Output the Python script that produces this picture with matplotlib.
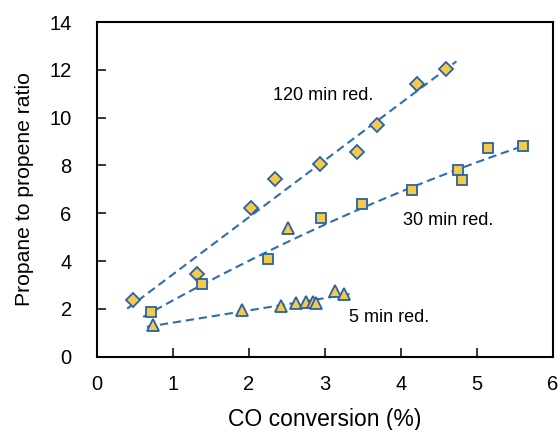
import numpy as np
import matplotlib.pyplot as plt

plt.rcParams['font.family'] = ['Liberation Sans', 'DejaVu Sans']

# 120 min reduction (diamonds)
x120 = [0.48, 1.32, 2.03, 2.35, 2.94, 3.42, 3.68, 4.21, 4.59]
y120 = [2.37, 3.47, 6.23, 7.44, 8.04, 8.55, 9.68, 11.42, 12.04]

# 30 min reduction (squares)
x30 = [0.71, 1.38, 2.25, 2.95, 3.49, 4.15, 4.75, 4.80, 5.15, 5.60]
y30 = [1.85, 3.03, 4.09, 5.82, 6.37, 6.96, 7.82, 7.38, 8.73, 8.80]

# 5 min reduction (triangles)
x5 = [0.74, 1.91, 2.42, 2.51, 2.62, 2.75, 2.85, 2.89, 3.13, 3.25]
y5 = [1.31, 1.96, 2.11, 5.40, 2.23, 2.27, 2.27, 2.25, 2.73, 2.64]

# trend line ranges
fit120 = (0.40, 4.73)
fit30 = (0.61, 5.63)
fit5 = (0.66, 3.37)

fill = '#F7C948'
edge = '#2762A8'
lcol = '#2E6DB4'

fig = plt.figure(figsize=(5.58, 4.30), dpi=100)
ax = fig.add_axes([0.1733, 0.1705, 0.8177, 0.7783])

dash = dict(ls='--', color=lcol, lw=1.5, dashes=(4, 2.3))

# trend lines
p = np.polyfit(x120, y120, 1)
xx = np.linspace(*fit120, 100)
ax.plot(xx, np.polyval(p, xx), **dash)

p = np.polyfit(x30, y30, 2)
xx = np.linspace(*fit30, 100)
ax.plot(xx, np.polyval(p, xx), **dash)

x5a, y5a = np.array(x5), np.array(y5)
keep = y5a < 4
p = np.polyfit(x5a[keep], y5a[keep], 1)
xx = np.linspace(*fit5, 100)
ax.plot(xx, np.polyval(p, xx), **dash)

ax.plot(x120, y120, ls='', marker='D', ms=7.5, mfc=fill, mec=edge, mew=1.3)
ax.plot(x30, y30, ls='', marker='s', ms=7.2, mfc=fill, mec=edge, mew=1.3)
ax.plot(x5, y5, ls='', marker='^', ms=8.5, mfc=fill, mec=edge, mew=1.3)

ax.text(2.32, 10.74, '120 min red.', fontsize=13)
ax.text(4.03, 5.51, '30 min red.', fontsize=13)
ax.text(3.32, 1.46, '5 min red.', fontsize=13)

ax.set_xlim(0, 6)
ax.set_ylim(0, 14)
ax.set_xticks(range(0, 7))
ax.set_yticks(range(0, 15, 2))
ax.tick_params(direction='in', length=6.5, width=1.1, labelsize=14.5)
ax.tick_params(axis='x', pad=13)
ax.tick_params(axis='y', pad=18)
for s in ax.spines.values():
    s.set_linewidth(1.5)
ax.set_xlabel('CO conversion (%)', fontsize=16.5, labelpad=10)
ax.set_ylabel('Propane to propene ratio', fontsize=15.2, labelpad=11)

fig.savefig('out.png', dpi=100)
